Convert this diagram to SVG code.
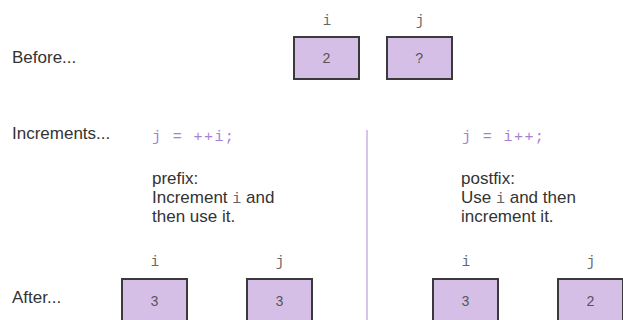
<svg xmlns="http://www.w3.org/2000/svg" width="623" height="320" viewBox="0 0 623 320">
<style>
.lbl{font-family:"Liberation Sans",Arial,sans-serif;font-size:17px;fill:#333}
.var{font-family:"Liberation Mono","DejaVu Sans Mono",monospace;font-size:14px;fill:#666;text-anchor:middle}
.code{font-family:"Liberation Mono","DejaVu Sans Mono",monospace;font-size:15px;letter-spacing:1.4px;fill:#a67fd6}
.mono{font-family:"Liberation Mono","DejaVu Sans Mono",monospace;font-size:15px;fill:#666}
.box{fill:#d5bfe6;stroke:#3a3a3a;stroke-width:2}
.val{font-family:"Liberation Mono","DejaVu Sans Mono",monospace;font-size:14px;fill:#555;text-anchor:middle}
</style>
<rect width="623" height="320" fill="#fff"/>
<text class="lbl" x="12" y="63">Before...</text>
<text class="lbl" x="12" y="139">Increments...</text>
<text class="lbl" x="12" y="303">After...</text>
<g id="connectors">
<line x1="367" y1="130" x2="367" y2="320" stroke="#d8c4ea" stroke-width="2"/>
</g>
<g id="before-i">
<text class="var" x="327" y="25">i</text>
<rect class="box" x="294" y="37" width="65" height="42"/>
<text class="val" x="326.5" y="63">2</text>
</g>
<g id="before-j">
<text class="var" x="420" y="25">j</text>
<rect class="box" x="387" y="37" width="65" height="42"/>
<text class="val" x="419.5" y="63">?</text>
</g>
<g id="prefix">
<text class="code" x="152" y="141" xml:space="preserve">j = ++i;</text>
<text class="lbl" x="152" y="184">prefix:</text>
<text class="lbl" x="152" y="203">Increment <tspan class="mono">i</tspan> and</text>
<text class="lbl" x="152" y="222">then use it.</text>
</g>
<g id="postfix">
<text class="code" x="462" y="141" xml:space="preserve">j = i++;</text>
<text class="lbl" x="461" y="184">postfix:</text>
<text class="lbl" x="461" y="203">Use <tspan class="mono">i</tspan> and then</text>
<text class="lbl" x="461" y="222">increment it.</text>
</g>
<g id="after-prefix-i">
<text class="var" x="155" y="266">i</text>
<rect class="box" x="122" y="279" width="65" height="50"/>
<text class="val" x="154.5" y="306">3</text>
</g>
<g id="after-prefix-j">
<text class="var" x="280" y="266">j</text>
<rect class="box" x="247" y="279" width="65" height="50"/>
<text class="val" x="279.5" y="306">3</text>
</g>
<g id="after-postfix-i">
<text class="var" x="466" y="266">i</text>
<rect class="box" x="433" y="279" width="65" height="50"/>
<text class="val" x="465.5" y="306">3</text>
</g>
<g id="after-postfix-j">
<text class="var" x="591" y="266">j</text>
<rect class="box" x="558" y="279" width="65" height="50"/>
<text class="val" x="590.5" y="306">2</text>
</g>
</svg>
